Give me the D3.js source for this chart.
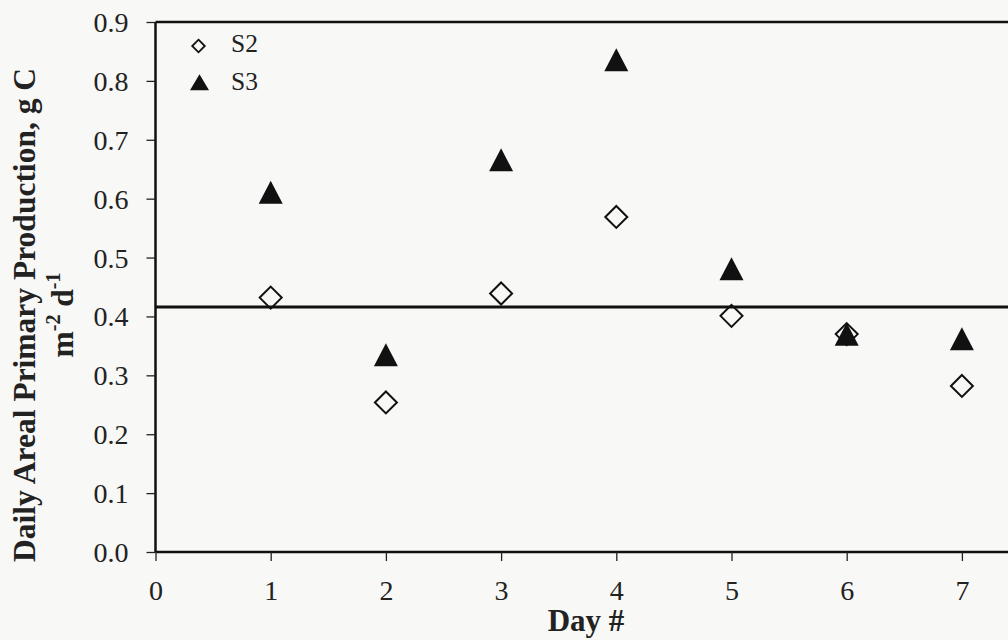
<!DOCTYPE html>
<html><head><meta charset="utf-8">
<script src="https://cdn.jsdelivr.net/npm/d3@7"></script>
<style>
html,body{margin:0;padding:0;background:#f8f8f6;}
svg{display:block;font-family:"Liberation Serif","Times New Roman",serif;}
</style></head>
<body>
<script>
const days = [1, 2, 3, 4, 5, 6, 7];
const s2 = [0.432, 0.254, 0.439, 0.569, 0.401, 0.370, 0.282];
const s3 = [0.609, 0.333, 0.664, 0.834, 0.479, 0.368, 0.360];
const refLevel = 0.416;
const xTicks = [0, 1, 2, 3, 4, 5, 6, 7];
const yTicks = [0, 0.1, 0.2, 0.3, 0.4, 0.5, 0.6, 0.7, 0.8, 0.9];
const seriesNames = ["S2", "S3"];

const W = 1008, H = 640;
const svg = d3.select("body").append("svg").attr("width", W).attr("height", H);
svg.append("rect").attr("width", W).attr("height", H).attr("fill", "#f8f8f6");

const x = d3.scaleLinear().domain([0, 8]).range([155.5, 155.5 + 8 * 115.2]);
const y = d3.scaleLinear().domain([0, 0.9]).range([552, 22]);

// top frame line
svg.append("line").attr("x1", x(0)).attr("x2", W + 5).attr("y1", y(0.9)).attr("y2", y(0.9))
  .attr("stroke", "#111").attr("stroke-width", 2.5);

// axes
const xAxis = d3.axisBottom(x).tickValues(xTicks).tickSize(9).tickPadding(19).tickFormat(d3.format("d"));
const gx = svg.append("g").attr("transform", `translate(0,${y(0)})`).call(xAxis);
gx.select(".domain").attr("d", `M${x(0)},0H${W + 5}`).attr("stroke", "#111").attr("stroke-width", 2.5);
gx.selectAll(".tick line").attr("stroke", "#222").attr("stroke-width", 1.3);
gx.selectAll(".tick text").attr("font-size", 28).attr("fill", "#222").attr("font-family", "Liberation Serif");

const yAxis = d3.axisLeft(y).tickValues(yTicks).tickSize(9).tickPadding(18).tickFormat(d3.format(".1f"));
const gy = svg.append("g").attr("transform", `translate(${x(0)},0)`).call(yAxis);
gy.select(".domain").attr("d", `M0,${y(0.9)}V${y(0)}`).attr("stroke", "#111").attr("stroke-width", 2.5);
gy.selectAll(".tick line").attr("stroke", "#222").attr("stroke-width", 1.3);
gy.selectAll(".tick text").attr("font-size", 28).attr("fill", "#222").attr("font-family", "Liberation Serif").attr("dy", "0.34em");

// reference line
svg.append("line").attr("x1", x(0)).attr("x2", W + 5).attr("y1", y(refLevel)).attr("y2", y(refLevel))
  .attr("stroke", "#111").attr("stroke-width", 3.2);

// markers
const diamond = (cx, cy, r) => `M${cx},${cy - r}L${cx + r},${cy}L${cx},${cy + r}L${cx - r},${cy}Z`;
const tri = (cx, cy, s, h) => `M${cx},${cy - h * 0.55}L${cx + s / 2},${cy + h * 0.45}L${cx - s / 2},${cy + h * 0.45}Z`;

svg.append("g").selectAll("path").data(days.map((d, i) => [d, s3[i]])).join("path")
  .attr("d", d => tri(x(d[0]), y(d[1]), 24, 23)).attr("fill", "#111");
svg.append("g").selectAll("path").data(days.map((d, i) => [d, s2[i]])).join("path")
  .attr("d", d => diamond(x(d[0]), y(d[1]), 11)).attr("fill", "none").attr("stroke", "#111").attr("stroke-width", 2);

// legend
const lg = svg.append("g");
lg.append("path").attr("d", diamond(198.5, 46, 6.3)).attr("fill", "none").attr("stroke", "#111").attr("stroke-width", 1.8);
lg.append("path").attr("d", tri(199.5, 83, 19, 16)).attr("fill", "#111");
lg.append("text").attr("x", 231).attr("y", 52).attr("font-size", 25.5).attr("fill", "#222").text(seriesNames[0]);
lg.append("text").attr("x", 231).attr("y", 90).attr("font-size", 25.5).attr("fill", "#222").text(seriesNames[1]);

// axis titles
svg.append("text").attr("x", 586).attr("y", 631).attr("text-anchor", "middle")
  .attr("font-size", 31).attr("font-weight", "bold").attr("fill", "#222").text("Day #");

const yt = svg.append("g").attr("transform", "translate(35,315) rotate(-90)");
yt.append("text").attr("text-anchor", "middle").attr("font-size", 31.5).attr("font-weight", "bold").attr("fill", "#222")
  .text("Daily Areal Primary Production, g C");
const t2 = yt.append("text").attr("x", 0).attr("y", 38).attr("text-anchor", "middle").attr("font-size", 31.5)
  .attr("font-weight", "bold").attr("fill", "#222");
t2.append("tspan").text("m");
t2.append("tspan").attr("dy", -13).attr("font-size", 20).text("-2");
t2.append("tspan").attr("dy", 13).text(" d");
t2.append("tspan").attr("dy", -13).attr("font-size", 20).text("-1");
</script>
</body></html>
